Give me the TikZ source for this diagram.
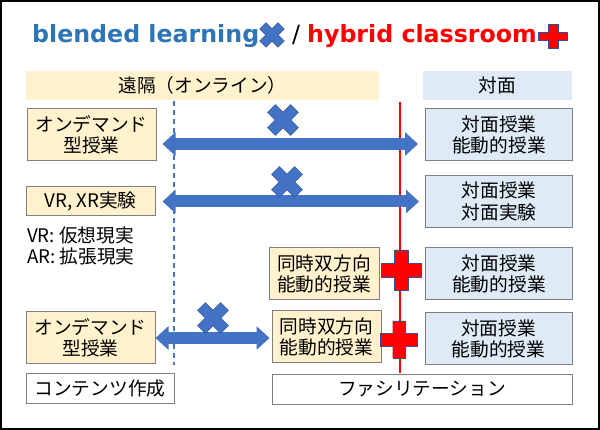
\documentclass[tikz,border=0pt]{standalone}
\usepackage{fontspec}
\setmainfont{Noto Sans CJK JP}
\newfontfamily\titlefont{DejaVu Sans}
\usetikzlibrary{arrows.meta,positioning}
\definecolor{titleblue}{HTML}{2E75B6}
\definecolor{xblue}{HTML}{4472C4}
\definecolor{xedge}{HTML}{2F528F}
\definecolor{xred}{HTML}{FF0000}
\definecolor{remotefill}{HTML}{FFF2CC}
\definecolor{onsitefill}{HTML}{DEEBF7}
\definecolor{boxedge}{HTML}{7F7F7F}
\newcommand\jpfont{\fontsize{18.7}{21.5}\selectfont}

\begin{document}
\begin{tikzpicture}[
    x=1pt, y=-1pt,
    remote/.style={rectangle, draw=boxedge, fill=remotefill, line width=1pt, minimum width=129pt, minimum height=52pt, align=center, inner sep=1pt, font=\jpfont},
    onsite/.style={rectangle, draw=boxedge, fill=onsitefill, line width=1pt, minimum width=147pt, minimum height=52pt, align=center, inner sep=1pt, font=\jpfont},
    blank/.style={rectangle, draw=boxedge, fill=white, line width=1pt, minimum height=29pt, inner sep=1pt, font=\jpfont},
    header/.style={rectangle, minimum height=29pt, inner sep=1pt, font=\jpfont},
    widearrow/.style={draw=xblue, line width=12pt, {Triangle[length=13pt,width=23pt]}-{Triangle[length=13pt,width=23pt]}},
    pics/plusmark/.style={code={
        \path[pic actions] (-0.17,-0.5) -- (0.17,-0.5) -- (0.17,-0.17) -- (0.5,-0.17) -- (0.5,0.17) -- (0.17,0.17)
            -- (0.17,0.5) -- (-0.17,0.5) -- (-0.17,0.17) -- (-0.5,0.17) -- (-0.5,-0.17) -- (-0.17,-0.17) -- cycle;
    }},
    bluex/.style={fill=xblue, draw=xedge, line width=0.4pt, rotate=45},
    redplus/.style={fill=xred, draw=xedge, line width=0.4pt}
]
\useasboundingbox (0,0) rectangle (600,430);
\draw[line width=2pt] (1,1) rectangle (599,429);

% title
\node[anchor=base west, inner sep=0, font=\titlefont\bfseries\fontsize{23.7}{28}\selectfont, text=titleblue] (tblend) at (32,43) {blended learning};
\pic[bluex, scale=26] at (272,35) {plusmark};
\node[anchor=base west, inner sep=0, font=\titlefont\fontsize{23.7}{28}\selectfont] (tslash) at (292,43) {/};
\node[anchor=base west, inner sep=0, font=\titlefont\bfseries\fontsize{23.7}{28}\selectfont, text=xred] (thybrid) at (307,43) {hybrid classroom};
\pic[redplus, xscale=29, yscale=24] at (553,36.5) {plusmark};

% headers
\node[header, fill=remotefill, minimum width=353pt] (hremote) at (202.5,85.5) {遠隔（オンライン）};
\node[header, fill=onsitefill, minimum width=149pt] (honsite) at (497.5,85.5) {対面};

% guide lines
\draw[xblue, line width=1.5pt, dash pattern=on 5pt off 4pt] (174,101) -- (174,365);
\draw[xred, line width=1.5pt] (400,102) -- (400,373);

% row 1
\node[remote] (od1) at (91.5,135) {オンデマンド\\型授業};
\node[onsite] (f1) at (499,135) {対面授業\\能動的授業};
\coordinate (a1) at ([yshift=-9pt]od1.east);
\draw[widearrow, shorten <=6pt, shorten >=7pt] (a1) -- (a1 -| f1.west);
\pic[bluex, scale=32.7] at (283,120) {plusmark};

% row 2
\node[remote, minimum height=29pt] (vr) at (90.5,201.5) {VR, XR実験};
\node[onsite] (f2) at (499,201.5) {対面授業\\対面実験};
\draw[widearrow, shorten <=7pt, shorten >=6pt] (vr.east) -- (vr.east -| f2.west);
\pic[bluex, scale=32.7] at (287,182) {plusmark};
\node[anchor=west, align=left, inner sep=1pt, font=\jpfont] (note) at (26,246) {VR: 仮想現実\\AR: 拡張現実};

% row 3
\node[remote, minimum width=110pt] (sync1) at (324,274) {同時双方向\\能動的授業};
\node[onsite] (f3) at (499,274) {対面授業\\能動的授業};
\pic[redplus, scale=40] at (401,270) {plusmark};

% row 4
\node[remote] (od2) at (90.5,338) {オンデマンド\\型授業};
\node[remote, minimum width=109pt] (sync2) at (326.5,337) {同時双方向\\能動的授業};
\node[onsite] (f4) at (498.5,339) {対面授業\\能動的授業};
\draw[widearrow, shorten >=2pt] (od2.east) -- (od2.east -| sync2.west);
\pic[bluex, scale=32.7] at (213,318) {plusmark};
\pic[redplus, scale=37] at (399,339.5) {plusmark};

% bottom labels
\node[blank, minimum width=148pt] (content) at (100,388.5) {コンテンツ作成};
\node[blank, minimum width=300pt] (facil) at (422,389.5) {ファシリテーション};
\end{tikzpicture}
\end{document}
